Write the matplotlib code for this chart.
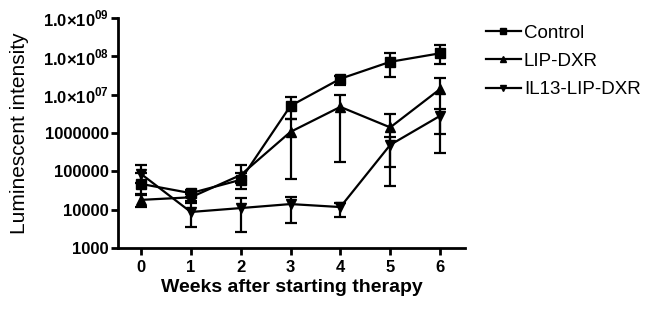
import numpy as np
import matplotlib as mpl
mpl.use('Agg')
import matplotlib.pyplot as plt
from matplotlib.lines import Line2D
from matplotlib.ticker import FixedLocator, NullLocator

mpl.rc("font", family="Liberation Sans", size=12)
mpl.rcParams['mathtext.fontset'] = 'custom'
mpl.rcParams['mathtext.rm'] = 'Liberation Sans:bold'
mpl.rcParams['mathtext.bf'] = 'Liberation Sans:bold'

weeks = [0, 1, 2, 3, 4, 5, 6]

# mean values and error bar ends
control = [47000, 27000, 60000, 5.1e6, 2.6e7, 7.2e7, 1.2e8]
control_lo = [25000, 22000, 35000, 2.3e6, 1.8e7, 2.9e7, 6.3e7]
control_hi = [91000, 33000, 1.5e5, 8.7e6, 3.1e7, 1.2e8, 2.0e8]

lip = [18000, 21000, 80000, 1.07e6, 4.8e6, 1.4e6, 1.4e7]
lip_lo = [12000, 17000, 50000, 6.3e4, 1.8e5, 1.3e5, 9.5e5]
lip_hi = [24000, 26000, 9.0e4, 2.3e6, 1.0e7, 3.2e6, 2.8e7]

il13 = [86000, 8700, 11000, 14000, 11700, 4.9e5, 2.8e6]
il13_lo = [50000, 3500, 2600, 4500, 6500, 4.2e4, 3.0e5]
il13_hi = [148000, 15000, 20000, 21000, 15000, 7.9e5, 4.3e6]

series = [
    ("Control", control, control_lo, control_hi, "s"),
    ("LIP-DXR", lip, lip_lo, lip_hi, "^"),
    ("IL13-LIP-DXR", il13, il13_lo, il13_hi, "v"),
]

ytick_vals = [1e3, 1e4, 1e5, 1e6, 1e7, 1e8, 1e9]
ytick_labels = ["1000", "10000", "100000", "1000000",
                r"1.0×10$^{07}$", r"1.0×10$^{08}$", r"1.0×10$^{09}$"]

fig = plt.figure(figsize=(6.5, 3.11), dpi=100)
ax = fig.add_axes([118/650, 63/311, 347/650, 230/311])

handles = []
for name, m, lo, hi, mk in series:
    m = np.array(m)
    yerr = [m - np.array(lo), np.array(hi) - m]
    ax.errorbar(weeks, m, yerr=yerr, color="black", marker=mk, markersize=7,
                linewidth=1.6, elinewidth=1.6, capsize=4.5, capthick=1.6)
    handles.append(Line2D([], [], color="black", marker=mk, markersize=5,
                          linewidth=1.6, label=name))

ax.set_yscale("log")
ax.set_ylim(1e3, 1e9)
ax.set_xlim(-0.46, 6.5)
ax.yaxis.set_major_locator(FixedLocator(ytick_vals))
ax.yaxis.set_minor_locator(NullLocator())
ax.set_yticklabels(ytick_labels)
ax.set_xticks(weeks)
for lab in ax.get_xticklabels() + ax.get_yticklabels():
    lab.set_fontweight("bold")

ax.spines["top"].set_visible(False)
ax.spines["right"].set_visible(False)
for s in ["left", "bottom"]:
    ax.spines[s].set_linewidth(2)
ax.tick_params(axis="y", width=2, length=5, direction="out", pad=1.5)
ax.tick_params(axis="x", width=2, length=5, direction="out", pad=3.5)

ax.set_xlabel("Weeks after starting therapy", fontsize=14, fontweight="bold", labelpad=3)
ax.set_ylabel("Luminescent intensity", fontsize=15, labelpad=10)

fig.legend(handles=handles, loc="upper left", bbox_to_anchor=(478/650, 1 - 17/311),
           frameon=False, fontsize=13.5, handlelength=1.9, handletextpad=0.15,
           labelspacing=0.6, borderaxespad=0)

fig.savefig("out.png", dpi=100)
